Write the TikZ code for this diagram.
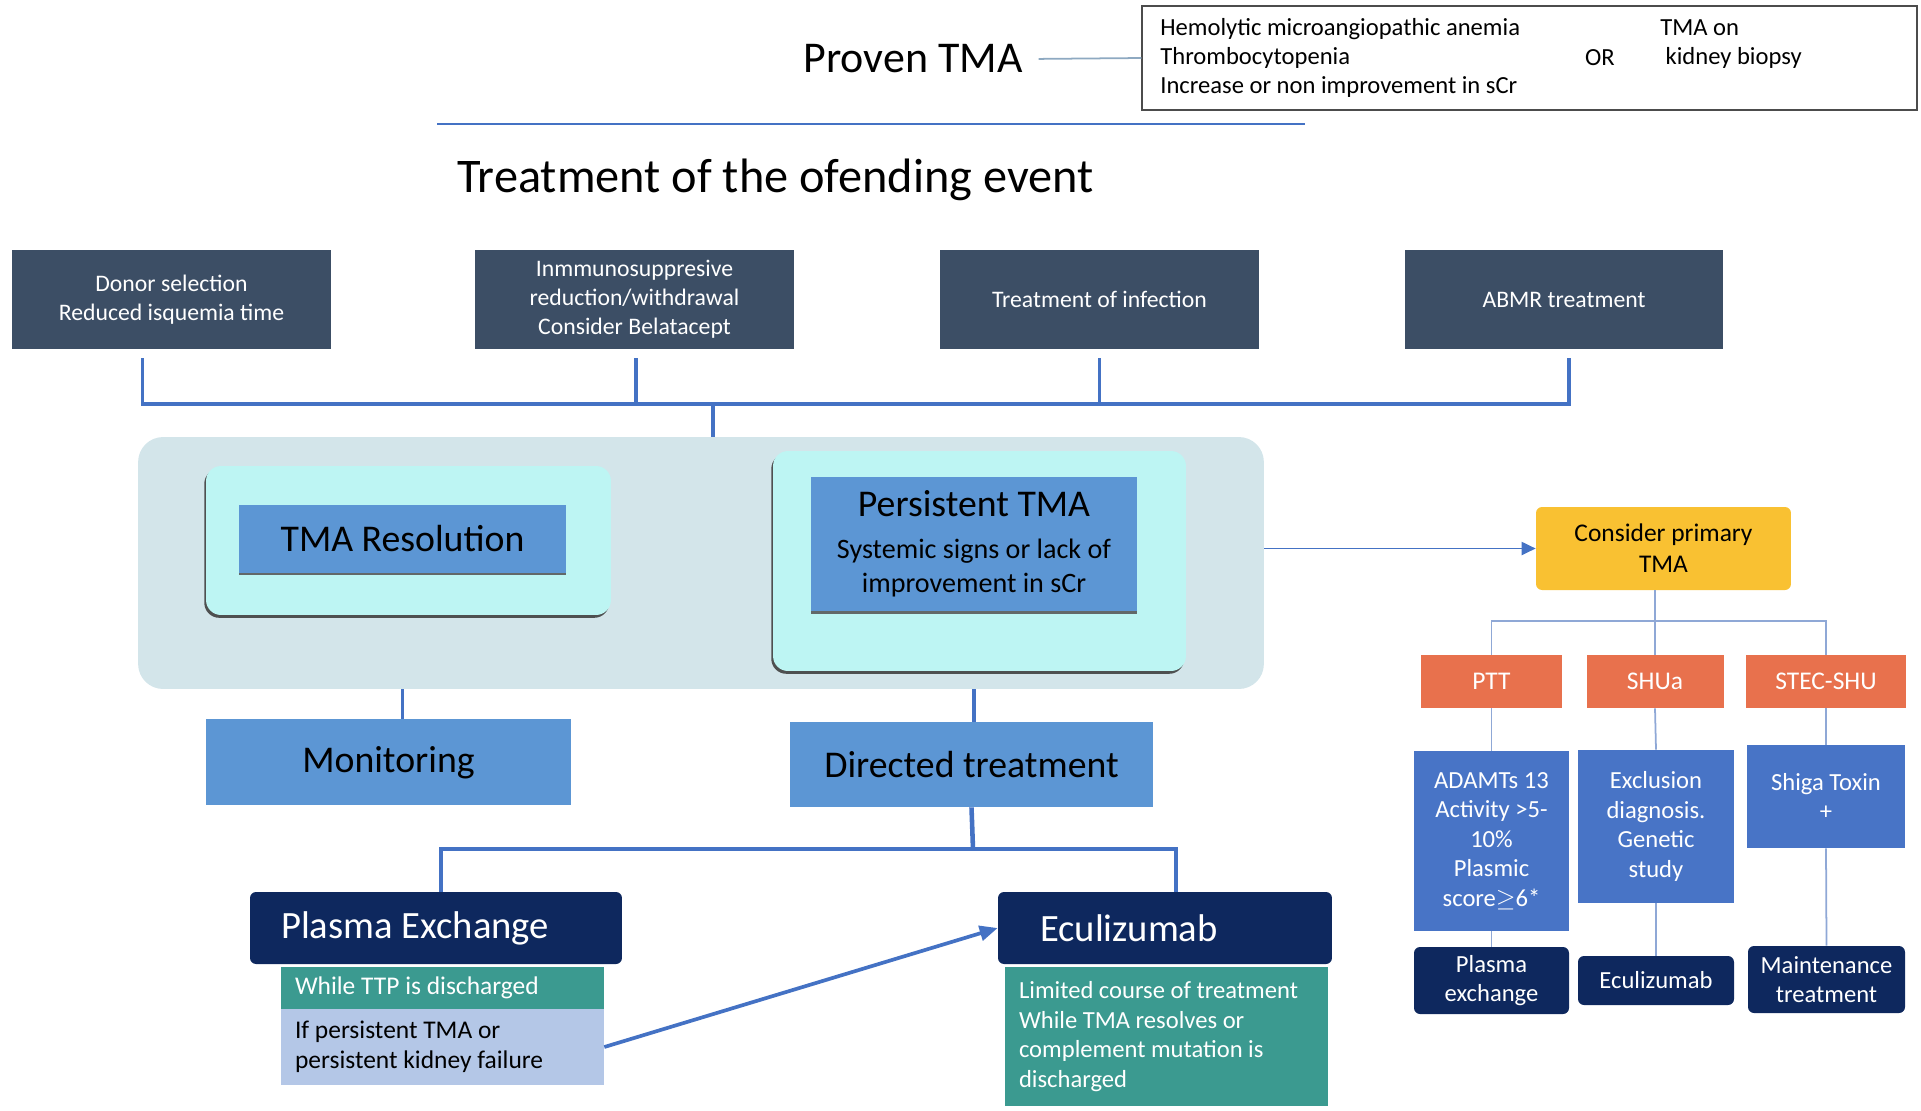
\documentclass[tikz,border=0pt]{standalone}
\usepackage{fontspec}
\setmainfont{Carlito}
\usepackage{tikz}
\usetikzlibrary{
	arrows.meta,
	calc,
	positioning,
	shadows
}
\definecolor{SlateBox}{RGB}{60,78,101}
\definecolor{LineBlue}{RGB}{68,114,196}
\definecolor{PaleBg}{RGB}{211,229,234}
\definecolor{PaleCyan}{RGB}{189,245,243}
\definecolor{MidBlue}{RGB}{92,150,212}
\definecolor{BoxBlue}{RGB}{72,116,198}
\definecolor{Navy}{RGB}{14,40,94}
\definecolor{Teal}{RGB}{59,154,144}
\definecolor{Lavender}{RGB}{180,199,231}
\definecolor{Amber}{RGB}{249,193,50}
\definecolor{Coral}{RGB}{232,113,77}
\definecolor{ThinBlue}{RGB}{143,168,214}
\definecolor{GreyBlue}{RGB}{142,169,193}

\begin{document}
\begin{tikzpicture}[x=0.02cm, y=-0.02cm,
		evt/.style={fill=SlateBox, text=white, minimum width=6.38cm, minimum height=1.98cm, align=center, font=\fontsize{13.5}{16.5}\selectfont},
		cyanbox/.style={fill=PaleCyan, rounded corners=0.3cm, drop shadow={shadow xshift=-1pt, shadow yshift=-1.6pt, fill=black!75, opacity=0.9}},
		midbox/.style={fill=MidBlue, align=center, font=\fontsize{21.5}{26}\selectfont},
		raised/.style={drop shadow={shadow xshift=0pt, shadow yshift=-1.4pt, fill=black!65, opacity=0.9}},
		kind/.style={fill=Coral, text=white, minimum height=1.06cm, font=\fontsize{14.5}{17}\selectfont},
		test/.style={fill=BoxBlue, text=white, align=center, font=\fontsize{14}{16.8}\selectfont},
		cure/.style={fill=Navy, text=white, rounded corners=0.12cm, align=center, font=\fontsize{14}{16.8}\selectfont},
		bigcure/.style={fill=Navy, text=white, rounded corners=0.12cm, minimum height=1.44cm, align=flush left, font=\fontsize{22}{26}\selectfont},
		note/.style={align=flush left, text width=5.9cm, inner xsep=0.28cm, font=\fontsize{14.5}{17}\selectfont},
		busline/.style={LineBlue, line width=2.1pt},
		thinline/.style={ThinBlue, line width=1pt}
	]
		\useasboundingbox (0,0) rectangle (1921,1110);
		
		% 顶部
		\node[font=\fontsize{25}{30}\selectfont] (proven) at (913,59) {Proven TMA};
		\node[draw=black!70, line width=0.8pt, minimum width=15.5cm, minimum height=2.08cm] (crit) at (1529.5,58) {};
		\node[anchor=west, align=left, inner sep=0pt, font=\fontsize{14}{16.5}\selectfont] (signs) at (1160,58)
			{Hemolytic microangiopathic anemia\\Thrombocytopenia\\Increase or non improvement in sCr};
		\node[font=\fontsize{14}{16.5}\selectfont] (or) at (1600,58) {OR};
		\node[anchor=west, align=left, inner sep=0pt, font=\fontsize{14}{16.5}\selectfont] (biopsy) at (1660,44) {TMA on\\\hspace{3pt}kidney biopsy};
		\draw[GreyBlue, line width=1pt, shorten <=0.2cm] (proven.east) -- (crit.west);
		
		\draw[LineBlue, line width=1.3pt] (437,124) -- (1305,124);
		\node[anchor=west, inner sep=0pt, font=\fontsize{27.5}{33}\selectfont] (title) at (457,180) {Treatment of the ofending event};
		
		% 四个处理框
		\node[evt] (donor) at (171.5,299.5) {Donor selection\\Reduced isquemia time};
		\node[evt] (immuno) at (634.5,299.5) {Inmmunosuppresive\\reduction/withdrawal\\Consider Belatacept};
		\node[evt] (infect) at (1099.5,299.5) {Treatment of infection};
		\node[evt] (abmr) at (1564,299.5) {ABMR treatment};
		
		% 结果区
		\node[fill=PaleBg, rounded corners=0.5cm, minimum width=22.52cm, minimum height=5.04cm] (bg) at (701,563) {};
		\node[cyanbox, minimum width=8.1cm, minimum height=2.98cm] (resbox) at (408.5,540.5) {};
		\node[midbox, raised, minimum width=6.54cm, minimum height=1.36cm] (res) at (402.5,539) {TMA Resolution};
		\node[cyanbox, minimum width=8.26cm, minimum height=4.4cm] (persbox) at (979.5,561) {};
		\node[midbox, raised, minimum width=6.52cm, minimum height=2.7cm, font=\fontsize{16}{19.4}\selectfont] (pers) at (974,544)
			{{\fontsize{21.5}{26}\selectfont Persistent TMA}\\[4.5pt]Systemic signs or lack of\\improvement in sCr};
		
		\coordinate (hub) at (713,404);
		\draw[busline, shorten <=0.18cm] ([xshift=-0.58cm]donor.south) |- (hub);
		\draw[busline, shorten <=0.18cm] ([xshift=0.03cm]immuno.south) |- (hub);
		\draw[busline, shorten <=0.18cm] (infect.south) |- (hub);
		\draw[busline, shorten <=0.18cm] ([xshift=0.1cm]abmr.south) |- (hub);
		\draw[busline] (hub) -- (hub |- bg.north);
		
		% 原发 TMA 分支
		\node[fill=Amber, rounded corners=0.12cm, minimum width=5.1cm, minimum height=1.66cm, align=center, font=\fontsize{14.5}{17.6}\selectfont] (cpt) at (1663.5,548.5) {Consider primary\\TMA};
		\draw[LineBlue, line width=1.1pt, -{Triangle[length=0.28cm, width=0.26cm]}] (cpt.west -| bg.east) -- (cpt.west);
		
		\node[kind, minimum width=2.82cm] (ptt) at (1491.5,681.5) {PTT};
		\node[kind, minimum width=2.74cm] (shua) at (1655,681.5) {SHUa};
		\node[kind, minimum width=3.2cm] (stec) at (1826,681.5) {STEC-SHU};
		
		\coordinate (split) at (1655,621);
		\draw[thinline] (cpt.south -| split) -- (shua.north);
		\draw[thinline] (ptt.north) -- (ptt.north |- split) -| (stec.north);
		
		\node[test, minimum width=3.1cm, minimum height=3.6cm] (adam) at (1491.5,841) {ADAMTs 13\\Activity >5-\\10\%\\Plasmic\\score$\geq$6*};
		\node[test, minimum width=3.12cm, minimum height=3.06cm] (excl) at (1656,826.5) {Exclusion\\diagnosis.\\Genetic\\study};
		\node[test, minimum width=3.16cm, minimum height=2.06cm] (shiga) at (1826,796.5) {Shiga Toxin\\+};
		\draw[thinline] (ptt.south) -- (adam.north);
		\draw[thinline] (shua.south) -- (excl.north);
		\draw[thinline] (stec.south) -- (shiga.north);
		
		\node[cure, minimum width=3.1cm, minimum height=1.34cm] (pexs) at (1491.5,980.5) {Plasma\\exchange};
		\node[cure, minimum width=3.12cm, minimum height=0.98cm] (ecus) at (1656,980.5) {Eculizumab};
		\node[cure, minimum width=3.14cm, minimum height=1.34cm] (maint) at (1826.5,979.5) {Maintenance\\treatment};
		\draw[thinline] (adam.south) -- (pexs.north);
		\draw[thinline] (excl.south) -- (ecus.north);
		\draw[thinline] (shiga.south) -- (maint.north);
		
		% 监测与治疗
		\node[midbox, minimum width=7.3cm, minimum height=1.72cm, text depth=0.1cm] (mon) at (388.5,762) {Monitoring};
		\node[midbox, minimum width=7.26cm, minimum height=1.7cm] (dir) at (971.5,764.5) {Directed treatment};
		\draw[busline] (res |- bg.south) -- (res |- mon.north);
		\draw[busline] (pers |- bg.south) -- (pers |- dir.north);
		
		\node[bigcure, minimum width=7.44cm, text width=6.2cm] (pex) at (436,928) {Plasma Exchange};
		\node[bigcure, minimum width=6.68cm, text width=5.0cm] (ecu) at (1165,928) {Eculizumab};
		
		\coordinate (fork) at (973,849);
		\draw[busline, line width=2.6pt] (dir.south) -- (fork);
		\draw[busline, line width=2.6pt] ([xshift=0.1cm]pex.north) |- (fork) -| ([xshift=0.22cm]ecu.north);
		
		\node[note, fill=Teal, text=white, minimum height=0.84cm] (ttp) at (442.5,988) {While TTP is discharged};
		\node[note, fill=Lavender, minimum height=1.52cm] (lav) at (442.5,1047) {If persistent TMA or\\persistent kidney failure};
		\node[note, fill=Teal, text=white, minimum height=2.78cm, font=\fontsize{14}{17}\selectfont] (ecunote) at (1166.5,1036.5)
			{Limited course of treatment\\While TMA resolves or\\complement mutation is\\discharged};
		
		\draw[LineBlue, line width=2.1pt, -{Triangle[length=0.36cm, width=0.3cm]}] (lav.east) -- (ecu.west);
	\end{tikzpicture}
\end{document}
